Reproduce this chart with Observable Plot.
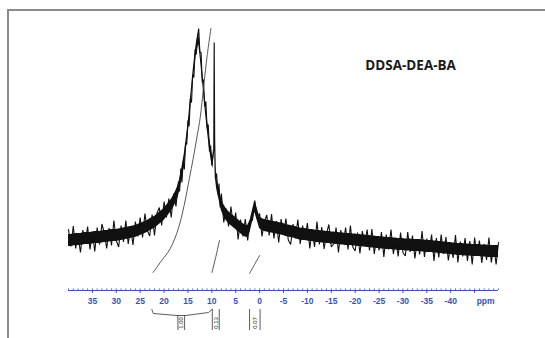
<!DOCTYPE html>
<html><head><meta charset="utf-8">
<script src="https://cdn.jsdelivr.net/npm/d3@7"></script>
<script src="https://cdn.jsdelivr.net/npm/@observablehq/plot@0.6"></script>
<style>
html,body{margin:0;padding:0;background:#fff;}
#wrap{position:relative;width:545px;height:338px;overflow:hidden;background:#fff;}
#wrap svg{position:absolute;left:0;top:0;}
#border{position:absolute;left:7px;top:9px;width:560px;height:360px;border-top:2px solid #8c8c8c;border-left:2px solid #8c8c8c;z-index:2;pointer-events:none;}
</style></head>
<body><div id="wrap"></div>
<script>
// ---- spectrum (chemical shift, ppm) ----
const ppm = [
  40,39.5,39,38.5,38,37.5,37,36.5,36,35.5,35,34.5,34,33.5,33,32.5,32,31.5,31,30.5,
  30,29.5,29,28.5,28,27.5,27,26.5,26,25.5,25,24.5,24,23.5,23,22.5,22,21.5,21,20.5,
  20,19.5,19,18.5,18,17.5,
  17,16.75,16.5,16.25,16,15.75,15.5,15.25,15,14.75,14.5,14.25,14,13.75,13.5,13.25,13,12.75,12.5,12.25,
  12,11.75,11.5,11.25,11,10.75,10.5,10.25,10,9.75,9.6,9.5,9.4,9.25,9,8.75,8.5,8.25,8,
  7.5,7,6.5,6,5.5,5,4.5,4,3.5,3,2.5,2,1.5,1,0.5,0,-0.5,-1,-1.5,-2,
  -2.5,-3,-3.5,-4,-4.5,-5,-5.5,-6,-6.5,-7,-7.5,-8,-8.5,-9,-9.5,-10,-10.5,-11,-11.5,-12,
  -12.5,-13,-13.5,-14,-14.5,-15,-15.5,-16,-16.5,-17,-17.5,-18,-18.5,-19,-19.5,-20,-20.5,-21,-21.5,-22,
  -22.5,-23,-23.5,-24,-24.5,-25,-25.5,-26,-26.5,-27,-27.5,-28,-28.5,-29,-29.5,-30,-30.5,-31,-31.5,-32,
  -32.5,-33,-33.5,-34,-34.5,-35,-35.5,-36,-36.5,-37,-37.5,-38,-38.5,-39,-39.5,-40,-40.5,-41,-41.5,-42,
  -42.5,-43,-43.5,-44,-44.5,-45,-45.5,-46,-46.5,-47,-47.5,-48,-48.5,-49,-49.5,-50
];
// smoothed signal intensity (arbitrary units)
const signal = [
  50,50,50.5,51,51,51,51.5,52,52,52,52.5,53,53,53,53.5,54,54,54.5,55,55,
  55,55.5,56,56.5,57,57.5,58,58.5,59,60,61,62,63,64,65.5,67,68,70,72,74,
  76,79,82,85,89,94,
  100,105,111,117,124,131,140,150,160,172,185,197,210,221,232,241,248,252,242,230,
  217,205,192,180,168,158,148,140,132,128,140,248,150,118,108,102,97,91,86,
  80,76,73,71,69,67,65,63,61,59.5,59,64,74,84,76,68,66,65,64.5,64,
  63.5,63,62.5,62,61.5,61,60,59.5,59,58.5,58,57,56.5,56,56,55.5,55,55,54.5,54,
  54,53.5,53.5,53,53,52.5,52.5,52,52,51.5,51.5,51,51,51,50.5,50.5,50,50,49.5,49.5,
  49,49,48.5,48.5,48,48,47.5,47.5,47,47,47,46.5,46.5,46,46,46,45.5,45.5,45.5,45,
  45,45,45,44.5,44.5,44,44,44,43.5,43.5,43,43,42.5,42.5,42,42,41.5,41.5,41,41,
  41,40.5,40.5,40.5,40,40,40,40,39.5,39.5,39.5,39,39,39,39,39
];
// noise excursions
const noise = [
  11,-6,14,-9,4,-13,9,-4,12,-11,6,-14,10,-7,13,3,-12,8,-10,15,
  -5,-12,9,-8,13,-11,5,-13,10,-6,12,-9,14,-4,-11,9,-13,7,11,-9,
  13,-6,10,-12,8,-10,
  9,-6,11,-9,5,-10,8,-4,10,-8,7,-9,6,-8,9,-5,6,10,-4,8,
  -9,6,-8,9,-5,8,-9,5,-7,6,0,0,0,-6,9,-5,10,-8,11,
  -12,6,-9,13,-5,11,-14,8,-7,12,-9,6,-4,6,-4,9,-12,4,11,-9,
  13,-11,7,-14,10,-5,12,-9,-13,8,-6,14,-10,9,-4,12,-13,6,-11,15,
  -8,10,-12,4,13,-9,-6,11,-14,9,-5,12,-10,14,-7,-11,8,-13,10,-4,
  12,-9,13,-12,6,-8,11,-14,9,-6,14,-10,5,-12,12,-8,-11,13,-7,10,
  -13,6,-9,15,-11,8,-5,12,-14,9,-10,13,-6,11,-12,4,-9,14,-13,8,
  -7,12,-11,9,-14,13,-5,10,-12,7,-9,14,-11,6,-13,9
];
if (ppm.length !== signal.length || ppm.length !== noise.length)
  throw new Error(`length mismatch ${ppm.length} ${signal.length} ${noise.length}`);

// ---- integral curves ----
const int1Ppm = [22.3, 20.8, 18.7, 17.0, 15.8, 14.7, 13.9, 13.06, 12.43, 11.74, 11.03, 10.19];
const int1Val = [18, 28, 42, 62, 85, 112, 132, 155, 173, 203, 233, 262];
const int2Ppm = [9.98, 9.2, 8.4];
const int2Val = [18, 33, 50];
const int3Ppm = [2.1, 1.05, 0.0];
const int3Val = [17, 26, 35];

// ---- integration brackets and values ----
const bracketPpm = [22.55, 22.25, 17.3, 15.5, 10.7, 10.0];
const bracketVal = [-19, -23, -25, -25, -22, -19];
const bracketTickPpm = [17.1, 15.7, 9.9, 8.45, 2.1, -0.1];
const bracketTickTop = [-25, -25, -19, -19, -19, -19];
const integralLabels = ["1.00", "0.13", "0.07"];
const integralLabelPpm = [16.4, 9.2, 1.0];

// ---- axis ----
const tickValues = [35,30,25,20,15,10,5,0,-5,-10,-15,-20,-25,-30,-35,-40];
const majorTickMarks = [35,30,25,20,15,10,5,0,-5,-10,-15,-20,-25,-30,-35,-40,-45];
const minorTickMarks = d3.range(-50, 40.5, 1);
const unitLabel = "ppm";
const title = "DDSA-DEA-BA";

const rows = ppm.map((p, i) => ({ppm: p, s: signal[i], y: signal[i] + noise[i]}));
const i1 = int1Ppm.map((p, i) => ({ppm: p, v: int1Val[i]}));
const i2 = int2Ppm.map((p, i) => ({ppm: p, v: int2Val[i]}));
const i3 = int3Ppm.map((p, i) => ({ppm: p, v: int3Val[i]}));
const br = bracketPpm.map((p, i) => ({ppm: p, v: bracketVal[i]}));
const brTicks = bracketTickPpm.map((p, i) => ({ppm: p, top: bracketTickTop[i]}));
const labs = integralLabels.map((t, i) => ({ppm: integralLabelPpm[i], t}));

const blue = "#3553b8";
const ink = "#111";
const axisFont = "Liberation Sans, Arial, sans-serif";

const chart = Plot.plot({
  width: 545,
  height: 338,
  marginLeft: 68,
  marginRight: 47,
  marginTop: 30,
  marginBottom: 48,
  x: {domain: [40, -50], axis: null},
  y: {domain: [0, 260], axis: null},
  style: {background: "transparent", overflow: "visible"},
  marks: [
    // spectrum core band and noisy trace
    Plot.areaY(rows, {x: "ppm", y1: d => d.s - 6, y2: d => d.s + 6, fill: ink}),
    Plot.line(rows, {x: "ppm", y: "y", stroke: ink, strokeWidth: 1.1, strokeLinejoin: "miter"}),
    // integrals
    Plot.line(i1, {x: "ppm", y: "v", stroke: "#444", strokeWidth: 0.9, curve: "catmull-rom"}),
    Plot.line(i2, {x: "ppm", y: "v", stroke: "#444", strokeWidth: 0.9, curve: "catmull-rom"}),
    Plot.line(i3, {x: "ppm", y: "v", stroke: "#444", strokeWidth: 0.9, curve: "catmull-rom"}),
    // axis
    Plot.ruleY([0], {stroke: blue, strokeWidth: 1}),
    Plot.ruleX(minorTickMarks, {x: d => d, y1: 0, y2: 1.6, stroke: blue, strokeWidth: 0.8}),
    Plot.ruleX(majorTickMarks, {x: d => d, y1: 0, y2: -3, stroke: blue, strokeWidth: 1}),
    Plot.text(tickValues, {x: d => d, y: -11, text: d => String(d), fill: blue, fontSize: 8.5,
      fontWeight: "bold", fontFamily: axisFont, lineAnchor: "middle"}),
    Plot.text([unitLabel], {x: -47.3, y: -11, text: d => d, fill: blue, fontSize: 8.5,
      fontWeight: "bold", fontFamily: axisFont, lineAnchor: "middle"}),
    // integration brackets
    Plot.line(br, {x: "ppm", y: "v", stroke: "#333", strokeWidth: 0.8}),
    Plot.ruleX(brTicks, {x: "ppm", y1: "top", y2: -40, stroke: "#333", strokeWidth: 0.8}),
    Plot.text(labs, {x: "ppm", y: -32.5, text: "t", rotate: -90, fontSize: 6, fill: "#222",
      fontFamily: axisFont, lineAnchor: "middle"}),
    // title
    Plot.text([title], {x: -31.6, y: 224.5, text: d => d, fontSize: 13.5, fontWeight: "bold",
      fontFamily: "Open Sans, sans-serif", fill: "#1a1a1a", lineAnchor: "middle"})
  ]
});
const wrap = document.getElementById("wrap");
wrap.appendChild(chart);
const b = document.createElement("div");
b.id = "border";
wrap.appendChild(b);
</script>
</body></html>
